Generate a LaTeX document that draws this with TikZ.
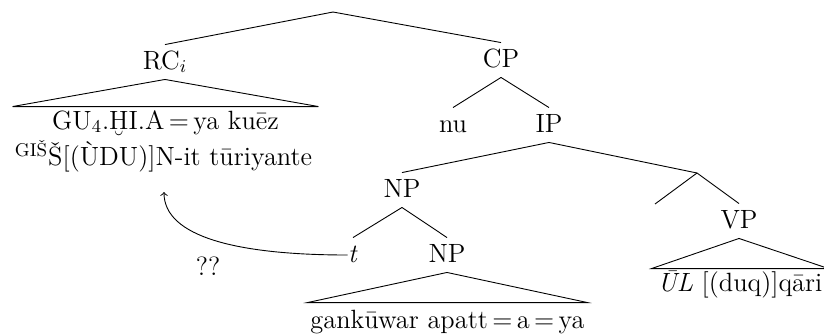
\documentclass[tikz,border=0pt]{standalone}
\usetikzlibrary{calc}
\newcommand{\eqc}{\,=\,}
\begin{document}
\begin{tikzpicture}[x=0.5pt,y=-0.5pt,line width=0.45pt,
  every node/.append style={font=\fontsize{13.2}{15.8}\selectfont},
  lab/.style={anchor=base,inner sep=0pt,text height=12pt,text depth=5pt},
  leaf/.style={anchor=base,inner sep=0pt,text depth=0pt}]
\path[use as bounding box] (0,0) rectangle (824,334);
% labels
\coordinate (root) at (333,12);
\node[lab] (rc) at (165,69) {RC$_i$};
\node[lab] (cp) at (501,67) {CP};
\node[lab] (nu) at (453,132) {nu};
\node[lab] (ip) at (549,132) {IP};
\node[lab] (np) at (402,197) {NP};
\coordinate (ibar) at (697,173);
\coordinate (e) at (655,204);
\node[lab] (vp) at (739,228) {VP};
\node[lab] (t) at (353,262) {\textit{t}};
\node[lab] (np2) at (447,262) {NP};
% leaves
\node[leaf,text height=11pt,minimum width=152.5pt] (rcl) at (165.5,129) {GU$_4$.ḪI.A\eqc ya kuēz};
\node[leaf] (rcl2) at (163.5,165) {\textsuperscript{GIŠ}Š[(ÙDU)]N-it tūriyante};
\node[leaf,text height=12.5pt,minimum width=139.5pt] (npl) at (447.5,328) {gankūwar apatt\eqc a\eqc ya};
\node[leaf,text height=11pt,minimum width=88pt] (vpl) at (740,291) {\textit{ŪL} [(duq)]qāri};
% edges
\draw (root) -- (rc.north);
\draw (root) -- (cp.north);
\draw (cp.south) -- (nu.north);
\draw (cp.south) -- (ip.north);
\draw (ip.south) -- (np.north);
\draw (ip.south) -- (ibar);
\draw (ibar) -- (e);
\draw (ibar) -- (vp.north);
\draw (np.south) -- (t.north);
\draw (np.south) -- (np2.north);
% roofs
\draw (rc.south) -- (rcl.north west) -- (rcl.north east) -- cycle;
\draw (np2.south) -- (npl.north west) -- (npl.north east) -- cycle;
\draw (vp.south) -- (vpl.north west) -- (vpl.north east) -- cycle;
% movement arrow
\coordinate (tgt) at (164,192);
\draw[->] (t.west) .. controls ($(t.west)+(-110,0)$) and ($(tgt)+(0,45)$) .. (tgt);
\node[anchor=base] (qq) at (208,275) {??};
\end{tikzpicture}
\end{document}
